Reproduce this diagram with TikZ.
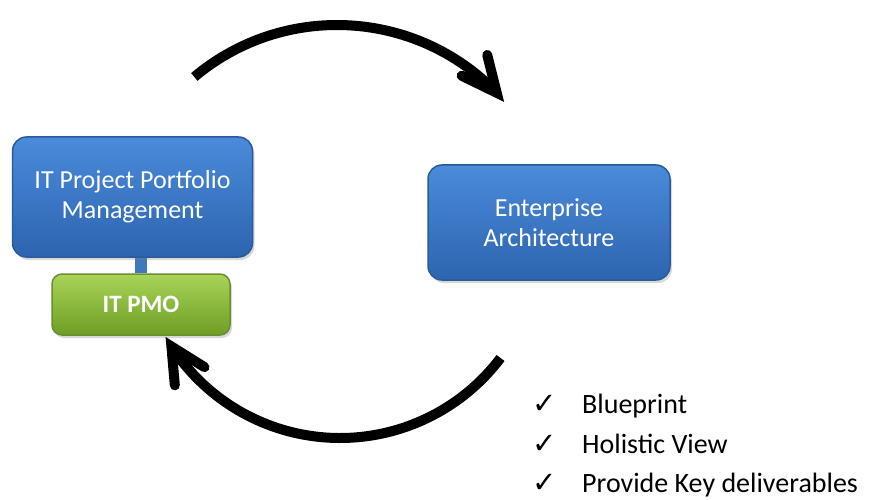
\documentclass[tikz,border=0pt]{standalone}
\usepackage{fontspec}
\setmainfont{Carlito}
\newfontfamily\symfont{DejaVu Sans}
\usetikzlibrary{shadows,backgrounds,calc}
\definecolor{blueA}{HTML}{4A8BDA}
\definecolor{blueB}{HTML}{2D64B0}
\definecolor{blueE}{HTML}{2A5A9A}
\definecolor{greenA}{HTML}{A8D458}
\definecolor{greenB}{HTML}{6E9E25}
\definecolor{greenE}{HTML}{6B8E2E}
\definecolor{barblue}{HTML}{3F78BE}
\begin{document}
\begin{tikzpicture}[x=1pt,y=-1pt,
  bluebox/.style={rounded corners=14pt, draw=blueE, line width=1.5pt,
    top color=blueA, bottom color=blueB, text=white, align=center,
    inner sep=0pt, font=\fontsize{26}{30}\selectfont,
    drop shadow={shadow xshift=2pt, shadow yshift=-3pt, opacity=0.3}},
  greenbox/.style={rounded corners=10pt, draw=greenE, line width=1.5pt,
    top color=greenA, bottom color=greenB, text=white, align=center,
    inner sep=0pt, font=\fontsize{25}{30}\selectfont\bfseries,
    drop shadow={shadow xshift=2pt, shadow yshift=-3pt, opacity=0.3}},
  arcline/.style={line width=10pt, black, line cap=butt},
  barb/.style={line width=10pt, black, line cap=round, line join=miter},
  item/.style={anchor=base west, inner sep=0pt, font=\fontsize{28}{34}\selectfont},
  link/.style={draw=barblue, line width=12pt}
]
\useasboundingbox (0,0) rectangle (876,500);

% boxes
\node[bluebox, minimum width=240pt, minimum height=120pt] (ppm) at (132.5,197)
  {IT Project Portfolio\\Management};
\node[bluebox, minimum width=242pt, minimum height=115pt] (ea) at (549,222.5)
  {Enterprise\\Architecture};
\node[greenbox, minimum width=178pt, minimum height=61pt] (pmo) at (141,304.5)
  {IT PMO};

\begin{scope}[on background layer]
  \draw[link] (ppm.south -| pmo.north) -- (pmo.north);
\end{scope}

% top arrow
\coordinate (c1) at (337,247);
\coordinate (s1) at ($(c1)+(-130:222)$);
\draw[arcline] (s1) arc[start angle=-130, end angle=-44, radius=222] coordinate (t1);
\draw[barb] ($(t1)+(-104:39)$) -- (t1) -- ($(t1)+(-154:39)$);

% bottom arrow
\coordinate (c2) at (340,237);
\coordinate (s2) at ($(c2)+(37:201)$);
\draw[arcline] (s2) arc[start angle=37, end angle=147, radius=201] coordinate (t2);
\draw[barb] ($(t2)+(85:39)$) -- (t2) -- ($(t2)+(32:39)$);

% list
\node[item] (l1) at (532,413) {\makebox[50pt][l]{\symfont\fontsize{29}{30}\selectfont ✓}Blueprint};
\node[item] (l2) at (532,453) {\makebox[50pt][l]{\symfont\fontsize{29}{30}\selectfont ✓}Holistic View};
\node[item] (l3) at (532,492) {\makebox[50pt][l]{\symfont\fontsize{29}{30}\selectfont ✓}Provide Key deliverables};
\end{tikzpicture}
\end{document}
